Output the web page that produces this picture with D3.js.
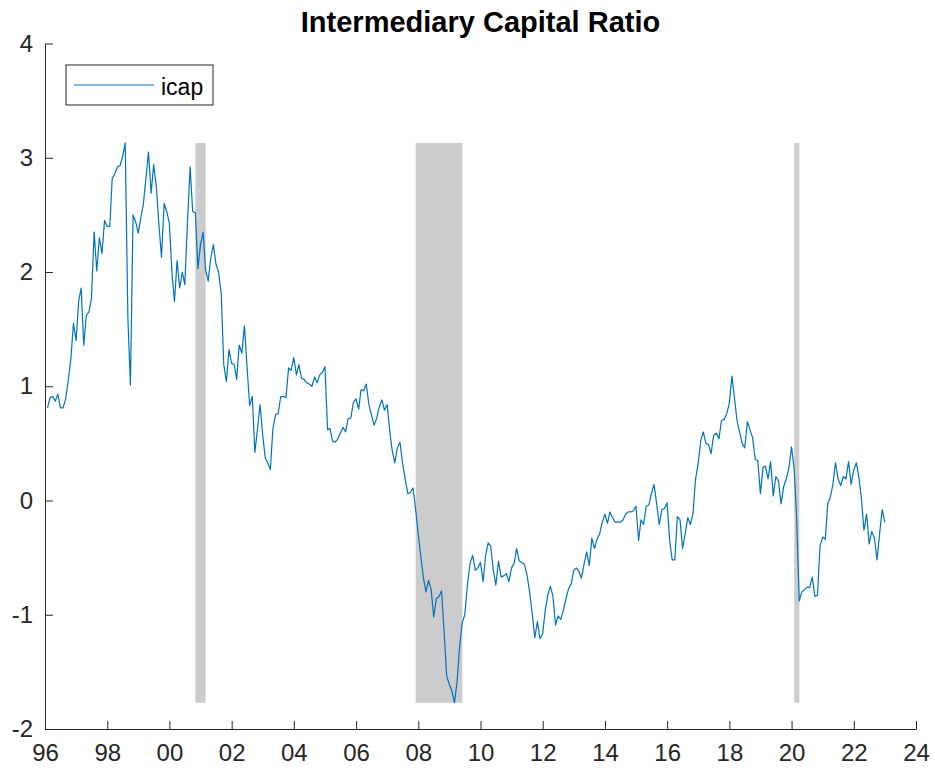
<!DOCTYPE html>
<html>
<head>
<meta charset="utf-8">
<script src="https://cdn.jsdelivr.net/npm/d3@7"></script>
<style>
  body { margin: 0; background: #fff; }
  svg text { font-family: "Liberation Sans", Arial, Helvetica, sans-serif; fill: #262626; }
</style>
</head>
<body>
<svg id="chart" width="935" height="776"></svg>
<script>
// monthly icap, Jan 1996 .. Dec 2022
const startYear = 1996;
const icap = [
  0.81, 0.90, 0.91, 0.87, 0.93, 0.81, 0.81, 0.89, 1.05, 1.24, 1.55, 1.40,
  1.75, 1.86, 1.36, 1.62, 1.65, 1.77, 2.35, 2.01, 2.30, 2.16, 2.45, 2.40,
  2.40, 2.82, 2.86, 2.92, 2.93, 3.01, 3.13, 1.60, 1.01, 2.50, 2.44, 2.34,
  2.48, 2.59, 2.82, 3.05, 2.69, 2.94, 2.75, 2.41, 2.13, 2.60, 2.53, 2.43,
  1.99, 1.74, 2.10, 1.86, 2.00, 1.89, 2.44, 2.92, 2.53, 2.52, 2.03, 2.24,
  2.35, 2.02, 1.92, 2.12, 2.24, 2.07, 2.00, 1.81, 1.19, 1.04, 1.32, 1.20,
  1.19, 1.06, 1.36, 1.29, 1.53, 1.17, 0.83, 0.91, 0.42, 0.63, 0.84, 0.57,
  0.37, 0.33, 0.27, 0.63, 0.75, 0.76, 0.91, 0.91, 0.90, 1.16, 1.14, 1.25,
  1.10, 1.19, 1.07, 1.06, 1.03, 1.02, 1.00, 1.08, 1.03, 1.10, 1.12, 1.17,
  0.62, 0.63, 0.52, 0.51, 0.54, 0.59, 0.64, 0.60, 0.72, 0.72, 0.86, 0.89,
  0.80, 0.97, 0.96, 1.02, 0.84, 0.75, 0.66, 0.72, 0.82, 0.88, 0.79, 0.84,
  0.61, 0.44, 0.33, 0.46, 0.51, 0.33, 0.19, 0.06, 0.07, 0.11, -0.07, -0.29,
  -0.49, -0.67, -0.80, -0.70, -0.78, -1.02, -0.86, -0.84, -0.79, -1.16, -1.54, -1.61,
  -1.67, -1.77, -1.59, -1.28, -1.07, -1.00, -0.74, -0.55, -0.48, -0.61, -0.59, -0.54,
  -0.71, -0.49, -0.37, -0.40, -0.61, -0.74, -0.53, -0.67, -0.66, -0.64, -0.71, -0.59,
  -0.55, -0.42, -0.53, -0.54, -0.56, -0.65, -0.80, -0.99, -1.20, -1.06, -1.21, -1.17,
  -0.96, -0.83, -0.75, -0.84, -1.09, -1.01, -1.04, -0.96, -0.86, -0.77, -0.73, -0.61,
  -0.59, -0.62, -0.68, -0.56, -0.45, -0.57, -0.33, -0.42, -0.34, -0.29, -0.19, -0.12,
  -0.20, -0.10, -0.15, -0.19, -0.19, -0.19, -0.17, -0.12, -0.10, -0.10, -0.09, -0.05,
  -0.35, -0.17, -0.21, -0.05, -0.04, 0.06, 0.14, -0.03, -0.21, -0.08, -0.07, -0.02,
  -0.35, -0.52, -0.52, -0.14, -0.17, -0.42, -0.29, -0.15, -0.21, -0.11, 0.19, 0.33,
  0.53, 0.60, 0.50, 0.49, 0.41, 0.57, 0.59, 0.54, 0.70, 0.71, 0.76, 0.85,
  1.09, 0.91, 0.70, 0.60, 0.50, 0.46, 0.69, 0.62, 0.55, 0.36, 0.35, 0.06,
  0.29, 0.30, 0.19, 0.34, 0.04, 0.21, 0.17, -0.03, 0.12, 0.19, 0.28, 0.47,
  0.28, -0.14, -0.88, -0.80, -0.78, -0.76, -0.76, -0.67, -0.84, -0.83, -0.40, -0.32,
  -0.34, -0.03, 0.03, 0.14, 0.33, 0.19, 0.13, 0.21, 0.19, 0.34, 0.14, 0.27,
  0.33, 0.21, 0.02, -0.26, -0.12, -0.38, -0.27, -0.33, -0.52, -0.29, -0.08, -0.19
];

// shaded recession periods
const recessionStart = ["2000-11-01", "2007-12-01", "2020-02-01"];
const recessionEnd   = ["2001-03-01", "2009-06-01", "2020-04-01"];

const yTicks = [-2, -1, 0, 1, 2, 3, 4];

const width = 935, height = 776;
const margin = {left: 45, right: 19, top: 43.5, bottom: 47};
const axisColor = "#262626";
const lineColor = "#0072bd";

const svg = d3.select("#chart");

// month-end dates
let data = icap.map(function(v, i){
	return {date: new Date(Date.UTC(startYear, i + 1, 0)), value: v};
});

let xScale = d3.scaleUtc()
	.domain([new Date(Date.UTC(1996, 0, 1)), new Date(Date.UTC(2024, 0, 1))])
	.range([margin.left, width - margin.right]);
let yScale = d3.scaleLinear()
	.domain([-2, 4])
	.range([height - margin.bottom, margin.top]);

// recession bars, spanning the range of the series
let ext = d3.extent(icap);
let recessions = recessionStart.map((s, i) => ({start: new Date(s), end: new Date(recessionEnd[i])}));
svg.append("g").selectAll("rect")
	.data(recessions)
	.enter()
	.append("rect")
	.attr("x", d => xScale(d.start))
	.attr("width", d => xScale(d.end) - xScale(d.start))
	.attr("y", yScale(ext[1]))
	.attr("height", yScale(ext[0]) - yScale(ext[1]))
	.attr("fill", "#cccccc");

const line = d3.line()
	.x(d => xScale(d.date))
	.y(d => yScale(d.value));

svg.append("path")
	.datum(data)
	.attr("fill", "none")
	.attr("stroke", lineColor)
	.attr("stroke-width", 1.2)
	.attr("stroke-linejoin", "round")
	.attr("d", line);

// axes, ticks pointing inward like matlab
let xAxis = svg.append("g")
	.attr("transform", "translate(0," + (height - margin.bottom) + ")")
	.call(d3.axisBottom(xScale)
		.ticks(d3.utcYear.every(2))
		.tickFormat(d3.utcFormat("%y"))
		.tickSizeInner(-8)
		.tickSizeOuter(0)
		.tickPadding(15));

let yAxis = svg.append("g")
	.attr("transform", "translate(" + margin.left + ",0)")
	.call(d3.axisLeft(yScale)
		.tickValues(yTicks)
		.tickFormat(d => String(d))
		.tickSizeInner(-8)
		.tickSizeOuter(0)
		.tickPadding(12));

[xAxis, yAxis].forEach(function(ax){
	ax.select(".domain").attr("stroke", axisColor).attr("stroke-width", 1);
	ax.selectAll(".tick line").attr("stroke", axisColor).attr("stroke-width", 1);
	ax.selectAll(".tick text")
		.attr("fill", axisColor)
		.style("font-size", "24px")
		.style("font-family", "'Liberation Sans', Arial, sans-serif");
});

// title
svg.append("text")
	.attr("x", (margin.left + width - margin.right) / 2)
	.attr("y", 32)
	.attr("text-anchor", "middle")
	.style("font-size", "29px")
	.style("font-weight", "bold")
	.style("fill", "#000")
	.text("Intermediary Capital Ratio");

// legend
let legend = svg.append("g").attr("transform", "translate(66,65)");
legend.append("rect")
	.attr("width", 147)
	.attr("height", 40)
	.attr("fill", "#fff")
	.attr("stroke", axisColor)
	.attr("stroke-width", 1);
legend.append("line")
	.attr("x1", 8).attr("x2", 88)
	.attr("y1", 20).attr("y2", 20)
	.attr("stroke", lineColor)
	.attr("stroke-width", 1.2);
legend.append("text")
	.attr("x", 95)
	.attr("y", 22)
	.attr("dy", "0.35em")
	.style("font-size", "23px")
	.style("fill", "#000")
	.text("icap");
</script>
</body>
</html>
